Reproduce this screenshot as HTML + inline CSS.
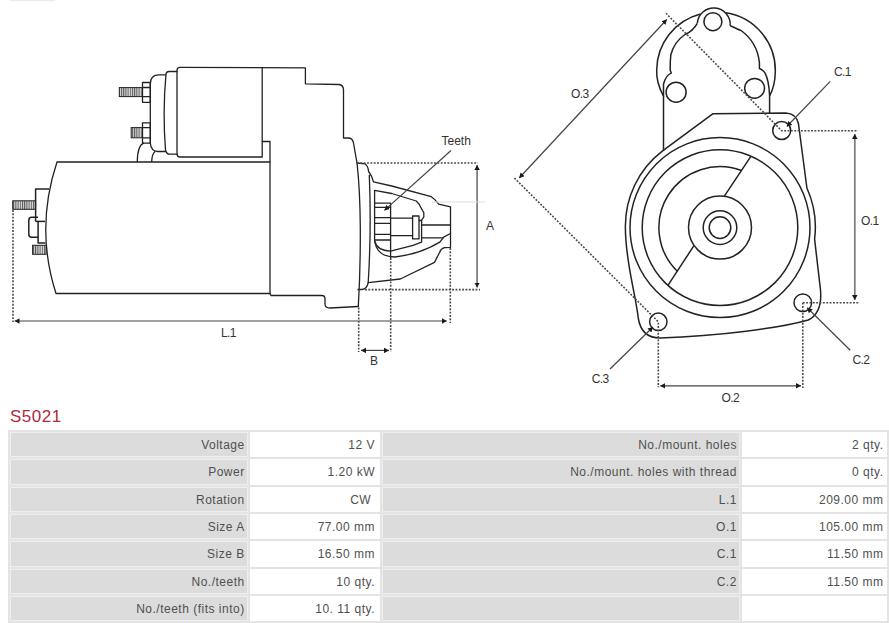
<!DOCTYPE html>
<html><head><meta charset="utf-8">
<style>
html,body{margin:0;padding:0;background:#fff;width:889px;height:623px;overflow:hidden;position:relative;font-family:"Liberation Sans",sans-serif;}
svg{position:absolute;left:0;top:0;}
.t{position:absolute;left:10px;top:407px;font-size:17px;color:#b02a3c;line-height:20px;letter-spacing:0.5px;}
.c{position:absolute;box-sizing:border-box;font-size:12px;color:#505050;text-align:right;line-height:25px;padding-right:2.5px;white-space:nowrap;letter-spacing:0.5px;}
.g{background:#dcdcdc;border:1px solid #eeeeee;}
.w{background:#fff;border:1px solid #fff;}
.frame{position:absolute;left:8px;top:430px;width:881px;height:193px;background:#e4e4e4;}
</style></head><body>
<svg width="889" height="410" viewBox="0 0 889 410">
<defs>
<pattern id="h" width="2.2" height="4" patternUnits="userSpaceOnUse"><rect width="2.2" height="4" fill="#ddd"/><rect width="1" height="4" fill="#555"/></pattern>
<marker id="ar" viewBox="0 0 9 10" refX="9" refY="5" markerWidth="5" markerHeight="5.6" orient="auto-start-reverse" markerUnits="userSpaceOnUse"><path d="M0,0 L9,5 L0,10 z" fill="#1a1a1a"/></marker>
</defs>
<rect x="10" y="0" width="45" height="1.2" fill="#ececec"/>
<g fill="none" stroke="#222" stroke-width="1.3" stroke-linejoin="round" stroke-linecap="round">
<!-- LEFT DRAWING -->
<!-- motor body -->
<path d="M57,162 L270,162 M56,293.5 L270,293.5 M57,162 Q35,228 56,293.5"/>
<path d="M262.4,141.5 L270,141.5 L270,293.5"/>
<!-- solenoid -->
<path d="M180,67.3 L305.4,67.8 L305.4,83.8 L339,84.5 Q343.5,85 343.5,90 L343.5,138 L349,138 Q352.7,138.5 353.5,143 L357.1,163.6 Q360,190 360.3,227 Q360.5,270 358.3,306.5"/>
<path d="M180,67.3 Q177,67.3 177,70.3 L177,154 Q177,157 180,157 L262.2,157 L262.2,67.3"/>
<path d="M177,71.5 L169,71.5 Q166.4,71.5 166,74 Q162.5,112 165.5,150 Q166.5,154.2 169.5,154.2 L177,154.2"/>
<path d="M165.5,74.9 L158,74.9 Q150.3,75.5 150.3,84 L150.3,143 Q151,151.5 158,151.5 L165.5,151.5"/>
<rect x="142.5" y="82.5" width="7.8" height="19.8"/>
<path d="M142.5,87.5 L150.3,87.5 M142.5,96.7 L150.3,96.7"/>
<rect x="142.5" y="122.8" width="7.8" height="20.4"/>
<path d="M142.5,127.6 L150.3,127.6 M142.5,137.8 L150.3,137.8"/>
<path d="M137.3,161.5 Q137.5,146 143.5,143.2 M151.7,161.5 Q152,154 155,151.5"/>
<!-- housing bottom -->
<path d="M270,293.5 L271,295.5 L322,295.5 Q325,295.5 325,299 L325,304 Q325,308 330,308 L358.3,306.5"/>
<!-- flange / nose -->
<path d="M357,163 L365,163.8 Q368,166 368.6,171.5 Q372,176 373.5,181.8 L391.7,186 L431.3,196.7 Q435,199 438.7,204.2 L450.5,206.9 L450.5,247.4 L444.5,247.6 Q440.5,249 439.8,252 L434.5,262.4 L400.3,279 L368.2,282.7"/>
<path d="M369.3,175.3 Q371.5,230 368.2,282.7 Q367,289 362,289.5 L358,289.5"/>
<path d="M421.6,220.2 L423.8,217 L423.8,212.7 L421.1,207.9 Q419.5,204 416.3,201 L391.7,193.5 L374.6,190.3 L374.6,241 Q377,250.5 390.6,251.2 L413,245.3 L421.6,242.1 L421.6,220.2"/>
<path d="M375,242 Q377,256.5 395,257 Q420,254 439.8,242.1 L444,236.8 L450.5,233.5"/>
<path d="M374.6,203.1 L390.6,203.1 M374.6,207.4 L390.6,207.4 M374.6,217.6 L390.6,217.6 M374.6,223.4 L390.6,223.4 M374.6,234.4 L390.6,234.4 M374.6,240 L390.6,240 M390.6,203.1 L390.6,258"/>
<path d="M390.6,218.1 L412.6,218.1 M390.6,235.7 L412.6,235.7 M421.6,225 L450.5,225 M421.6,237.8 L443,237.8"/>
<rect x="412.6" y="216" width="6.4" height="22.9"/>
<path d="M419,220.5 L421.6,220.5"/>
</g>
<g stroke="#222" stroke-width="1">
<rect x="119.3" y="87.6" width="23.2" height="9" fill="url(#h)"/>
<rect x="131.2" y="127.6" width="11.3" height="10.2" fill="url(#h)"/>
<rect x="12.7" y="200.8" width="22.9" height="8.5" fill="url(#h)"/>
<rect x="32.6" y="245.3" width="13.5" height="9" fill="url(#h)"/>
</g>
<g fill="none" stroke="#222" stroke-width="1.5" stroke-linejoin="round">
<path d="M35.6,221.4 L35.6,189 L49,189"/>
<path d="M35.6,221.4 L45,221.4"/>
<path d="M38.1,221.4 L38.1,243 L45.5,243"/>
<path d="M38.1,217.3 L31.8,217.3 Q28.8,217.3 28.8,220.3 L28.8,234.2 Q28.8,237.2 31.8,237.2 L38.1,237.2"/>
</g>
<!-- dims left -->
<g fill="none" stroke="#444" stroke-width="1.2">
<path d="M14.5,321 L446.8,321" marker-start="url(#ar)" marker-end="url(#ar)"/>
<path d="M477.1,165 L477.1,287.5" stroke="#7a7a7a" stroke-width="1.7" marker-start="url(#ar)" marker-end="url(#ar)"/>
<path d="M361,350.4 L389,350.4" marker-start="url(#ar)" marker-end="url(#ar)"/>
<path d="M451,150.5 L384.4,210.4" marker-end="url(#ar)"/>
</g>
<g fill="none" stroke="#4a4a4a" stroke-width="1.6" stroke-dasharray="1.9,1.45">
<path d="M13,210 L13,322"/>
<path d="M357,163 L478,163"/>
<path d="M365,289.6 L480,289.6"/>
<path d="M358.7,307.5 L358.7,352"/>
<path d="M390.7,258 L390.7,352"/>
<path d="M450.3,248 L450.3,323"/>
</g>
<path d="M432,202 L485,202" stroke="#ddd" stroke-width="1"/>

<!-- RIGHT DRAWING -->
<g fill="none" stroke="#222" stroke-width="1.5" stroke-linejoin="round">
<path d="M663.5,150.9 L663.5,96.2 Q656,82 656.7,70 A58.3,58.3 0 0 1 700.5,14"/>
<path d="M725.8,12.8 A58.3,58.3 0 0 1 775.3,72 Q775,86 769.6,96 L769.6,113"/>
<path d="M697.3,23.3 A15.6,15.6 0 1 1 730.2,25.7"/>
<path d="M697.3,23.3 Q693,31 685,34.5 Q674,42 670.8,55 Q670,62 670.2,70.3 L671.3,73.1 Q666,75 663.5,84 L663.5,96.2"/>
<path d="M730.2,25.7 Q733,27 741,30.5 Q757,42 759.4,62.3 L759.4,68.5 Q763,70 764.8,72.6 Q769,80 769.6,96"/>
<circle cx="712.9" cy="21.7" r="9"/>
<circle cx="676.1" cy="92.2" r="10"/>
<circle cx="754.6" cy="88.3" r="9.9"/>
<path d="M662.6,150.9 L712.7,113.8 L785.7,113 Q796.5,113.5 798.5,124 L806.9,188 A95.4,95.4 0 0 1 814.6,239.2 L820.5,290 Q822.5,313 808.2,320 C780,328 720,336 660,338 Q642,338 638.5,319.5 C635,290 625.4,262 625.4,228 A94.6,94.6 0 0 1 662.6,150.9"/>
<circle cx="720" cy="227.6" r="90"/>
<circle cx="720" cy="227.6" r="77.8"/>
<circle cx="720" cy="227.6" r="31.5"/>
<circle cx="720" cy="227.6" r="16.8"/>
<circle cx="720" cy="227.6" r="10.8"/>
<path d="M668.1,285.2 L694.1,245.4 M724.2,196.4 L750.7,156.7"/>
<path d="M741.5,170.5 A61,61 0 0 0 677.3,271.2"/>
<circle cx="781.7" cy="130.5" r="9"/>
<circle cx="802.8" cy="302.7" r="8.8"/>
<circle cx="658.3" cy="321.8" r="8.7"/>
</g>
<g fill="none" stroke="#444" stroke-width="1.2">
<path d="M519.2,178 L666.8,19.5" marker-start="url(#ar)" marker-end="url(#ar)"/>
<path d="M854.8,134 L854.8,300" stroke="#7a7a7a" stroke-width="1.7" marker-start="url(#ar)" marker-end="url(#ar)"/>
<path d="M660.2,385.8 L801,385.8" marker-start="url(#ar)" marker-end="url(#ar)"/>
<path d="M830.2,81.3 L786.8,126.5" marker-end="url(#ar)"/>
<path d="M850.2,350.3 L807.2,307.8" marker-end="url(#ar)"/>
<path d="M610,369 L653,327" marker-end="url(#ar)"/>
</g>
<g fill="none" stroke="#4a4a4a" stroke-width="1.6" stroke-dasharray="1.9,1.45">
<path d="M665.9,13.2 L781.6,130.7 L858,130.7"/>
<path d="M514.4,178 L658.3,321.8 L658.3,387.3"/>
<path d="M802.8,302.7 L858.8,302.7 M802.8,302.7 L802.8,388"/>
</g>
<g font-family="Liberation Sans, sans-serif" font-size="12" fill="#333">
<text x="441.5" y="145">Teeth</text>
<text x="486" y="229.5">A</text>
<text x="221" y="337" letter-spacing="-0.6">L.1</text>
<text x="370" y="364.5">B</text>
<text x="571" y="97.5" letter-spacing="-0.6">O.3</text>
<text x="834" y="76.2" letter-spacing="-0.6">C.1</text>
<text x="861" y="225" letter-spacing="-0.6">O.1</text>
<text x="852.4" y="364" letter-spacing="-0.6">C.2</text>
<text x="591.8" y="383" letter-spacing="-0.6">C.3</text>
<text x="721.6" y="402" letter-spacing="-0.6">O.2</text>
</g>
</svg>

<div class="t">S5021</div>
<div class="frame"></div>
<div class="c g" style="left:10px;top:432.0px;width:238.2px;height:25.4px">Voltage</div>
<div class="c w" style="left:249.8px;top:432.0px;width:130.2px;height:25.4px;padding-right:4px">12 V</div>
<div class="c g" style="left:381.8px;top:432.0px;width:358.6px;height:25.4px">No./mount. holes</div>
<div class="c w" style="left:742px;top:432.0px;width:145.0px;height:25.4px">2 qty.</div>
<div class="c g" style="left:10px;top:459.3px;width:238.2px;height:25.4px">Power</div>
<div class="c w" style="left:249.8px;top:459.3px;width:130.2px;height:25.4px;padding-right:4px">1.20 kW</div>
<div class="c g" style="left:381.8px;top:459.3px;width:358.6px;height:25.4px">No./mount. holes with thread</div>
<div class="c w" style="left:742px;top:459.3px;width:145.0px;height:25.4px">0 qty.</div>
<div class="c g" style="left:10px;top:486.6px;width:238.2px;height:25.4px">Rotation</div>
<div class="c w" style="left:249.8px;top:486.6px;width:130.2px;height:25.4px;padding-right:4px">CW&nbsp;</div>
<div class="c g" style="left:381.8px;top:486.6px;width:358.6px;height:25.4px">L.1</div>
<div class="c w" style="left:742px;top:486.6px;width:145.0px;height:25.4px">209.00 mm</div>
<div class="c g" style="left:10px;top:513.9px;width:238.2px;height:25.4px">Size A</div>
<div class="c w" style="left:249.8px;top:513.9px;width:130.2px;height:25.4px;padding-right:4px">77.00 mm</div>
<div class="c g" style="left:381.8px;top:513.9px;width:358.6px;height:25.4px">O.1</div>
<div class="c w" style="left:742px;top:513.9px;width:145.0px;height:25.4px">105.00 mm</div>
<div class="c g" style="left:10px;top:541.2px;width:238.2px;height:25.4px">Size B</div>
<div class="c w" style="left:249.8px;top:541.2px;width:130.2px;height:25.4px;padding-right:4px">16.50 mm</div>
<div class="c g" style="left:381.8px;top:541.2px;width:358.6px;height:25.4px">C.1</div>
<div class="c w" style="left:742px;top:541.2px;width:145.0px;height:25.4px">11.50 mm</div>
<div class="c g" style="left:10px;top:568.5px;width:238.2px;height:25.4px">No./teeth</div>
<div class="c w" style="left:249.8px;top:568.5px;width:130.2px;height:25.4px;padding-right:4px">10 qty.</div>
<div class="c g" style="left:381.8px;top:568.5px;width:358.6px;height:25.4px">C.2</div>
<div class="c w" style="left:742px;top:568.5px;width:145.0px;height:25.4px">11.50 mm</div>
<div class="c g" style="left:10px;top:595.8px;width:238.2px;height:25.4px">No./teeth (fits into)</div>
<div class="c w" style="left:249.8px;top:595.8px;width:130.2px;height:25.4px;padding-right:4px">10. 11 qty.</div>
<div class="c g" style="left:381.8px;top:595.8px;width:358.6px;height:25.4px"></div>
<div class="c w" style="left:742px;top:595.8px;width:145.0px;height:25.4px"></div>
</body></html>
